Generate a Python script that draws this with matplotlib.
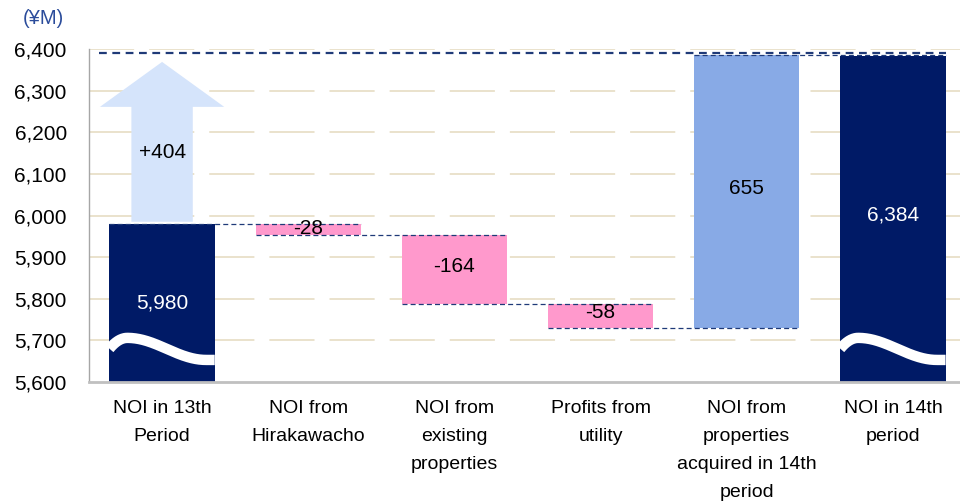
import numpy as np
import matplotlib
matplotlib.use("Agg")
from matplotlib import pyplot as plt
from matplotlib import patches
from matplotlib.ticker import FuncFormatter

plt.rcParams['font.family'] = ['Liberation Sans', 'DejaVu Sans']

categories = ["NOI in 13th\nPeriod", "NOI from\nHirakawacho", "NOI from\nexisting\nproperties",
              "Profits from\nutility", "NOI from\nproperties\nacquired in 14th\nperiod", "NOI in 14th\nperiod"]
values = [5980, -28, -164, -58, 655, 6384]
labels = ["5,980", "-28", "-164", "-58", "655", "6,384"]
increase = 404
increase_label = "+404"

navy = "#001a66"
pink = "#ff99cc"
blue = "#88aae6"
arrow_blue = "#d5e4fb"
grid_col = "#e8dfc8"
dash_col = "#1f3a78"
y_min, y_max = 5600, 6400

fig = plt.figure(figsize=(9.6, 5.04), dpi=100)
ax = fig.add_axes([89 / 960, 1 - 382 / 504, (966 - 89) / 960, (382 - 49) / 504])
ax.set_xlim(-0.5, 5.5)
ax.set_ylim(y_min, y_max)

x = np.arange(len(values))
w = 0.72

# bottoms / tops of the waterfall
bottoms = []
tops = []
level = 0
for i, v in enumerate(values):
    if i == 0 or i == len(values) - 1:
        bottoms.append(y_min - 50)
        tops.append(v)
        level = v
    else:
        new_level = level + v
        bottoms.append(min(level, new_level))
        tops.append(max(level, new_level))
        level = new_level

colors = [navy] + [pink if v < 0 else blue for v in values[1:-1]] + [navy]
heights = [t - b for t, b in zip(tops, bottoms)]
bars = ax.bar(x, heights, bottom=bottoms, width=w, color=colors, zorder=3)

# grid
for gy in range(5700, 6401, 100):
    ax.axhline(gy, color=grid_col, lw=1.3, linestyle=(0, (25, 8.3)), zorder=1)

# connectors
level = values[0]
for i in range(len(values) - 2):
    ax.plot([x[i] - w / 2, x[i + 1] + w / 2], [level, level], color=dash_col,
            lw=0.9, linestyle=(0, (4, 2.5)), zorder=4)
    level = level + values[i + 1]
ax.plot([x[-2] - w / 2, x[-1] + w / 2], [level, level], color=dash_col,
        lw=0.9, linestyle=(0, (4, 2.5)), zorder=4)
ax.plot([-0.43, x[-1] + w / 2], [values[-1] + 6, values[-1] + 6], color=dash_col,
        lw=1.6, linestyle=(0, (3.5, 2.5)), zorder=4)

# increase arrow
arr = patches.FancyArrow(x[0], values[0] + 5, 0, increase - 20, width=0.42, head_width=0.85,
                         head_length=108, length_includes_head=True, color=arrow_blue,
                         lw=0, zorder=2)
ax.add_patch(arr)
ax.text(x[0], 6152, increase_label, ha="center", va="center", fontsize=15, color="black", zorder=5)

# break waves on total bars
t = np.linspace(0, 1, 200)
wave = np.where(t < 0.17, 5706 - 26 * ((0.17 - t) / 0.17) ** 2,
                np.where(t < 0.92, 5679.5 + 26.5 * np.cos(np.pi * (t - 0.17) / 0.75), 5653))
for i in (0, len(values) - 1):
    ln, = ax.plot(x[i] - w / 2 + t * w, wave, color="white", lw=7.5, solid_capstyle="butt", zorder=4)
    ln.set_clip_path(bars[i])

# value labels
label_y = [5789, 5969, 5878, 5768, 6066, 6001]
for i, lab in enumerate(labels):
    c = "white" if i in (0, len(values) - 1) else "black"
    ax.text(x[i], label_y[i], lab, ha="center", va="center", fontsize=15, color=c, zorder=5)

ax.set_yticks(range(5600, 6401, 100))
ax.yaxis.set_major_formatter(FuncFormatter(lambda v, p: f"{int(v):,}"))
ax.set_xticks(x)
ax.set_xticklabels(categories, fontsize=14, linespacing=1.85)
ax.tick_params(axis="y", length=0, pad=16, labelsize=15)
ax.tick_params(axis="x", length=0, pad=13)
for s in ("top", "right"):
    ax.spines[s].set_visible(False)
ax.spines["left"].set_color("#a6a6a6")
ax.spines["left"].set_linewidth(1)
ax.spines["bottom"].set_color("#c0c0c0")
ax.spines["bottom"].set_linewidth(2)
ax.spines["bottom"].set_zorder(6)

fig.text(43 / 960, 1 - 18 / 504, "(¥M)", ha="center", va="center", fontsize=14.5, color="#2b4c9b")

fig.savefig("out.png", dpi=100)
